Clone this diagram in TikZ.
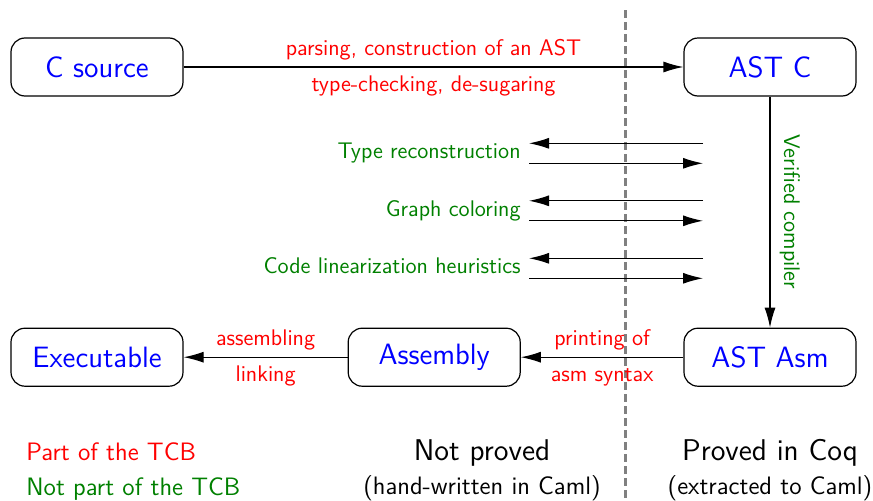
\documentclass[tikz,border=0pt]{standalone}
\usepackage{tikz}
\usepackage{xcolor}
\usetikzlibrary{arrows.meta,positioning}
\definecolor{tcbred}{RGB}{255,0,0}
\definecolor{nottcbgreen}{RGB}{0,128,0}
\definecolor{boxblue}{RGB}{0,0,255}

\begin{document}
\begin{tikzpicture}[
    x=0.5pt, y=0.5pt,
    font=\sffamily,
    box/.style={rectangle, draw=black, line width=0.6pt, rounded corners=7pt, minimum width=86pt, minimum height=29pt, text=boxblue, font=\sffamily\fontsize{14.7}{17}\selectfont},
    tcb/.style={text=tcbred, font=\sffamily\fontsize{11.3}{13}\selectfont, inner sep=0pt},
    nottcb/.style={text=nottcbgreen, font=\sffamily\fontsize{11.3}{13}\selectfont, inner sep=0pt},
    legend/.style={font=\sffamily\fontsize{12.6}{15}\selectfont, inner sep=0pt, anchor=base west},
    proof/.style={font=\sffamily\fontsize{15}{18}\selectfont, inner sep=0pt, anchor=base},
    proofnote/.style={font=\sffamily\fontsize{12.6}{15}\selectfont, inner sep=0pt, anchor=base},
    arrow/.style={-{Latex[length=10pt,width=5.5pt]}, line width=0.6pt},
    divider/.style={draw=gray, line width=1.5pt, dash pattern=on 4pt off 2pt}
]
\useasboundingbox (0,0) rectangle (873,500);

% pipeline boxes
\node[box] (csrc) at (97,433) {C source};
\node[box] (astc) at (770,433) {AST C};
\node[box, below=115.5pt of csrc] (exe) {Executable};
\node[box, right=82pt of exe] (asm) {Assembly};
\node[box, below=115.5pt of astc] (astasm) {AST Asm};

% proved / not proved border
\coordinate (divtop) at (625,490);
\coordinate (divbot) at (625,0);
\draw[divider] (divtop) -- (divbot);

% front end
\draw[arrow] (csrc) -- (astc)
    node[midway, tcb, anchor=base, yshift=6pt] (parse) {parsing, construction of an AST}
    node[midway, tcb, anchor=base, yshift=-12pt] (tcheck) {type-checking, de-sugaring};

% verified part
\draw[arrow] (astc) -- (astasm)
    node[midway, nottcb, xshift=10pt, rotate=-90] (verif) {Verified compiler};

% untrusted heuristics called from the compiler
\coordinate (typeR) at (703,356.7);
\coordinate (typeL) at (529,356.7);
\coordinate (typeL2) at (529,336.7);
\coordinate (typeR2) at (703,336.7);
\draw[arrow] (typeR) -- (typeL);
\draw[arrow] (typeL2) -- (typeR2);
\node[nottcb, anchor=base east] (typelbl) at (521,341.2) {Type reconstruction};

\coordinate (colR) at (703,299.2);
\coordinate (colL) at (529,299.2);
\coordinate (colL2) at (529,279.2);
\coordinate (colR2) at (703,279.2);
\draw[arrow] (colR) -- (colL);
\draw[arrow] (colL2) -- (colR2);
\node[nottcb, anchor=base east] (collbl) at (521,283.7) {Graph coloring};

\coordinate (linR) at (703,241.7);
\coordinate (linL) at (529,241.7);
\coordinate (linL2) at (529,221.7);
\coordinate (linR2) at (703,221.7);
\draw[arrow] (linR) -- (linL);
\draw[arrow] (linL2) -- (linR2);
\node[nottcb, anchor=base east] (linlbl) at (521,226.2) {Code linearization heuristics};

% back end
\draw[arrow] (astasm) -- (asm)
    node[midway, tcb, anchor=base, yshift=6pt] (print) {printing of}
    node[midway, tcb, anchor=base, yshift=-12pt] (syntax) {asm syntax};
\draw[arrow] (asm) -- (exe)
    node[midway, tcb, anchor=base, yshift=6pt] (assem) {assembling}
    node[midway, tcb, anchor=base, yshift=-12pt] (link) {linking};

% legend
\node[legend, text=tcbred] (leg1) at (26,40) {Part of the TCB};
\node[legend, text=nottcbgreen] (leg2) at (26,5) {Not part of the TCB};
\node[proof] (notp) at (482,40) {Not proved};
\node[proofnote] (notpn) at (482,6) {(hand-written in Caml)};
\node[proof] (prov) at (770,40) {Proved in Coq};
\node[proofnote] (provn) at (770,6) {(extracted to Caml)};

\end{tikzpicture}
\end{document}
